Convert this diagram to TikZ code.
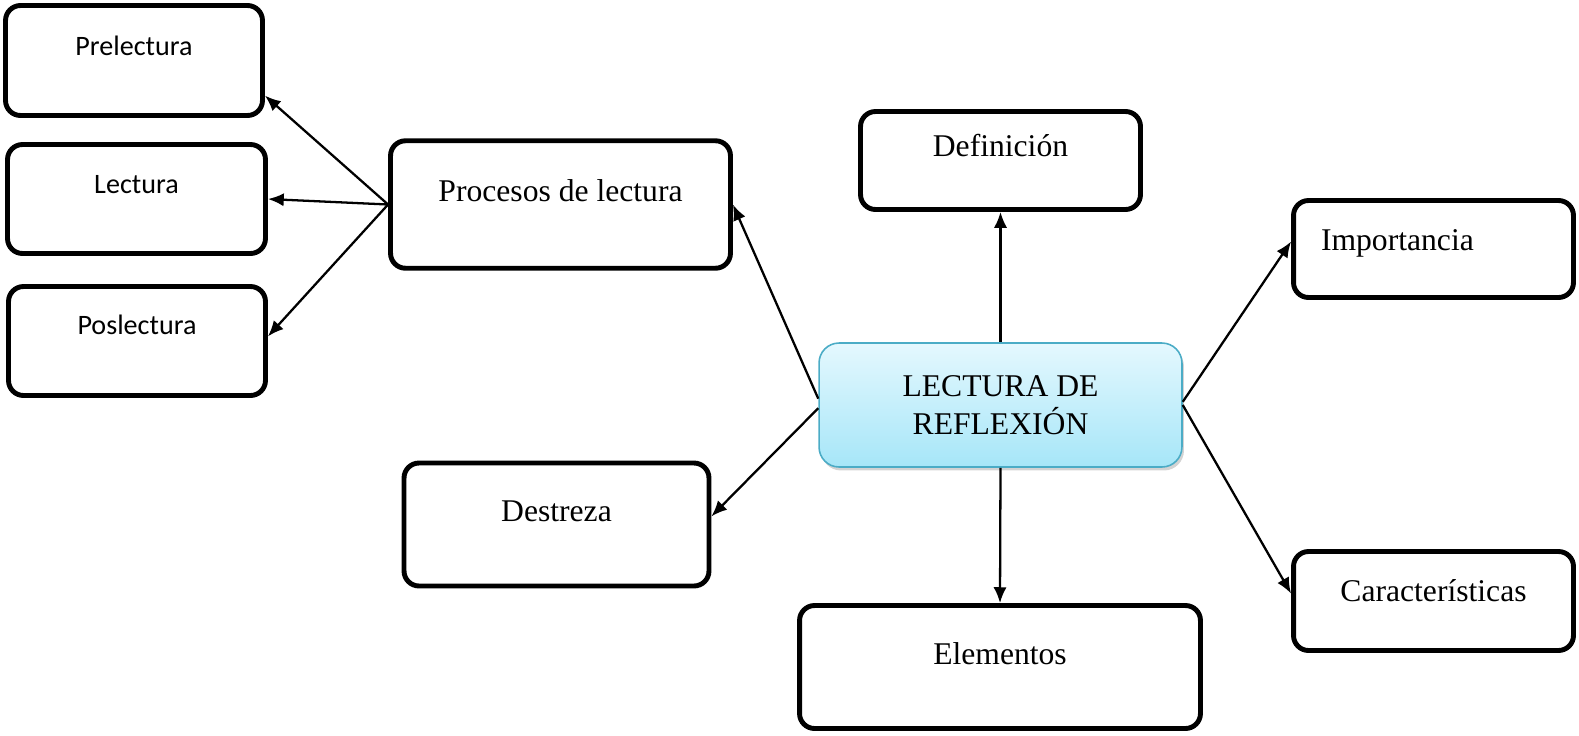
\documentclass[tikz,border=0pt]{standalone}
\usepackage{fontspec}
\setmainfont{Liberation Serif}
\newfontfamily\calibri{Carlito}
\usetikzlibrary{arrows.meta,shadows}
\definecolor{cenborder}{RGB}{75,172,198}
\definecolor{centop}{RGB}{228,248,254}
\definecolor{cenbot}{RGB}{166,230,248}
\begin{document}
\begin{tikzpicture}[x=0.02cm, y=-0.02cm,
	rbox/.style={draw=black, line width=2.8pt, rounded corners=0.3cm, fill=white,
		font=\fontsize{18}{22}\selectfont, text height=12pt, text depth=#1},
	rbox/.default=16pt,
	cbox/.style={rbox=#1, font=\calibri\fontsize{16}{19}\selectfont},
	cbox/.default=17pt,
	arr/.style={-{Latex[length=9pt,width=7.5pt]}, line width=1.3pt}]
	\useasboundingbox (0,0) rectangle (1579,735);

	\node[cbox=17.4pt, minimum width=5.14cm, minimum height=2.2cm] (pre) at (134,60.5)  {Prelectura};
	\node[cbox=18pt,   minimum width=5.16cm, minimum height=2.18cm] (lec) at (136.5,199) {Lectura};
	\node[cbox=19.2pt, minimum width=5.14cm, minimum height=2.18cm] (pos) at (137,341)   {Poslectura};

	\node[rbox=15.4pt, minimum width=6.8cm, minimum height=2.55cm] (proc) at (560.5,204.5) {Procesos de lectura};
	\node[rbox=15.4pt, minimum width=6.1cm, minimum height=2.46cm] (des)  at (556.5,524.5) {Destreza};
	\node[rbox=16.4pt, minimum width=5.6cm, minimum height=1.96cm] (def)  at (1000.5,160.5) {Definición};
	\node[rbox=14.8pt, minimum width=8.02cm, minimum height=2.46cm] (ele)  at (1000,667) {Elementos};
	\node[rbox=10.2pt, minimum width=5.6cm, minimum height=1.94cm,
		text width=4.5cm, align=left] (imp) at (1433.5,249) {Importancia};
	\node[rbox=11.4pt, minimum width=5.6cm, minimum height=1.98cm] (car)  at (1433.5,601) {Características};

	\node[draw=cenborder, line width=0.9pt, rounded corners=0.4cm, top color=centop, bottom color=cenbot,
		drop shadow={shadow xshift=0.04cm, shadow yshift=-0.07cm, opacity=0.35},
		minimum width=7.26cm, minimum height=2.48cm, align=center,
		font=\fontsize{18}{22}\selectfont] (cen) at (1000.5,405) {LECTURA DE\\REFLEXIÓN};

	\path [arr] (proc.west) edge (pre.-15);
	\path [arr] (proc.west) edge (lec.east);
	\path [arr] (proc.west) edge (pos.2);

	\path [arr] (cen.178)   edge (proc.east);
	\path [arr] (cen.181)   edge (des.3);
	\path [arr] (cen.north) edge (def.south);
	\path [arr] (cen.south) edge (ele.north);
	\path [arr] (cen.1)     edge (imp.177);
	\path [arr] (cen.east)  edge (car.177);
\end{tikzpicture}
\end{document}
